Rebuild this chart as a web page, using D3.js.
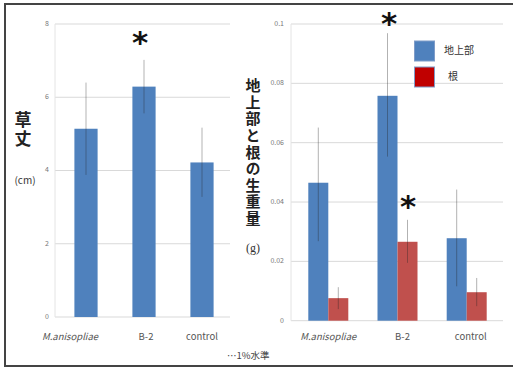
<!DOCTYPE html>
<html>
<head>
<meta charset="utf-8">
<script src="https://cdn.jsdelivr.net/npm/d3@7"></script>
<style>
  body { margin: 0; background: #fff; }
  svg { display: block; }
</style>
</head>
<body>
<svg id="chart" width="513" height="367"></svg>
<script>
// Data
const categories = ['M.anisopliae', 'B-2', 'control'];

// plant height (cm)
const heightMean = [5.14, 6.29, 4.22];
const heightLow = [3.88, 5.56, 3.28];
const heightHigh = [6.4, 7.02, 5.17];
const heightTicks = [0, 2, 4, 6, 8];

// fresh weight (g)
const seriesNames = ['地上部', '根'];
const shootMean = [0.0465, 0.0758, 0.0278];
const shootLow = [0.0268, 0.0553, 0.0116];
const shootHigh = [0.0651, 0.0969, 0.0442];
const rootMean = [0.0076, 0.0266, 0.0096];
const rootLow = [0.0039, 0.0195, 0.0049];
const rootHigh = [0.0113, 0.034, 0.0144];
const weightTicks = [0, 0.02, 0.04, 0.06, 0.08, 0.1];

const blue = '#4f81bd';
const red = '#c0504d';
const font = '"Noto Sans CJK JP", "Noto Sans", sans-serif';

const svg = d3.select('#chart').style('font-family', font);

// frame
svg.append('rect')
  .attr('x', 5).attr('y', 4)
  .attr('width', 515).attr('height', 362)
  .attr('fill', '#fff')
  .attr('stroke', '#444')
  .attr('stroke-width', 2);

function gridAndTicks(y, ticks, x0, x1, labelX, fmt) {
  for (const t of ticks) {
    svg.append('line')
      .attr('x1', x0).attr('x2', x1)
      .attr('y1', y(t)).attr('y2', y(t))
      .attr('stroke', '#d9d9d9').attr('stroke-width', 1);
    svg.append('text')
      .attr('x', labelX).attr('y', y(t))
      .attr('text-anchor', 'end')
      .attr('dominant-baseline', 'middle')
      .attr('font-size', '7px')
      .attr('fill', '#777')
      .text(fmt(t));
  }
  svg.append('line')
    .attr('x1', x0).attr('x2', x0)
    .attr('y1', y(ticks[ticks.length - 1])).attr('y2', y(0))
    .attr('stroke', '#e4e4e4');
}

function errBar(x, y, lo, hi) {
  svg.append('line')
    .attr('x1', x).attr('x2', x)
    .attr('y1', y(lo)).attr('y2', y(hi))
    .attr('stroke', '#222').attr('stroke-opacity', 0.35)
    .attr('stroke-width', 1);
}

function star(x, y, size) {
  svg.append('text')
    .attr('x', x).attr('y', y)
    .attr('text-anchor', 'middle')
    .attr('font-family', 'DejaVu Sans, sans-serif')
    .attr('font-weight', 'bold')
    .attr('font-size', size + 'px')
    .attr('fill', '#111')
    .text('*');
}

// vertical (tategaki) title as one text
function verticalTitle(x, y, size, spacing, str) {
  svg.append('text')
    .attr('x', x).attr('y', y)
    .style('writing-mode', 'vertical-rl')
    .style('letter-spacing', spacing + 'px')
    .attr('font-size', size + 'px')
    .attr('font-weight', 'bold')
    .attr('fill', '#222')
    .text(str);
}

// Left chart: plant height
const yL = d3.scaleLinear().domain([0, 8]).range([317, 24]);
const xL = d3.scaleBand().domain(categories).range([57, 231]).paddingInner(0.6).paddingOuter(0.3);

gridAndTicks(yL, heightTicks, 55, 230, 49, d => d3.format('d')(d));

categories.forEach((c, i) => {
  svg.append('rect')
    .attr('x', xL(c)).attr('y', yL(heightMean[i]))
    .attr('width', xL.bandwidth())
    .attr('height', yL(0) - yL(heightMean[i]))
    .attr('fill', blue);
  errBar(xL(c) + xL.bandwidth() / 2, yL, heightLow[i], heightHigh[i]);
});

const leftLabelShift = [-16, 2, 0];
categories.forEach((c, i) => {
  svg.append('text')
    .attr('x', xL(c) + xL.bandwidth() / 2 + leftLabelShift[i]).attr('y', 340)
    .attr('text-anchor', 'middle')
    .attr('font-size', '9.5px')
    .attr('font-style', i === 0 ? 'italic' : 'normal')
    .attr('fill', '#555')
    .text(c);
});

star(140, 53, 31);

verticalTitle(23, 111, 17, 2, '草丈');
svg.append('text')
  .attr('x', 25).attr('y', 184)
  .attr('text-anchor', 'middle')
  .attr('font-size', '10px')
  .attr('fill', '#333')
  .text('(cm)');

// Right chart: fresh weight
const yR = d3.scaleLinear().domain([0, 0.1]).range([320.7, 24]);
const xR = d3.scaleBand().domain(categories).range([293.7, 501.3]);
const xS = d3.scaleBand().domain(seriesNames).range([0, 40]);
const groupOffset = (xR.bandwidth() - 40) / 2;

gridAndTicks(yR, weightTicks, 291, 503, 284, d => d === 0 ? '0' : String(+d.toFixed(2)));

const weightSeries = [
  { name: seriesNames[0], mean: shootMean, lo: shootLow, hi: shootHigh, color: blue },
  { name: seriesNames[1], mean: rootMean, lo: rootLow, hi: rootHigh, color: red }
];

for (const s of weightSeries) {
  categories.forEach((c, i) => {
    const x = xR(c) + groupOffset + xS(s.name);
    svg.append('rect')
      .attr('x', x).attr('y', yR(s.mean[i]))
      .attr('width', xS.bandwidth())
      .attr('height', yR(0) - yR(s.mean[i]))
      .attr('fill', s.color);
  });
}
for (const s of weightSeries) {
  categories.forEach((c, i) => {
    const x = xR(c) + groupOffset + xS(s.name) + xS.bandwidth() / 2;
    errBar(x, yR, s.lo[i], s.hi[i]);
  });
}

const rightLabelShift = [0, 5, 4];
categories.forEach((c, i) => {
  svg.append('text')
    .attr('x', xR(c) + xR.bandwidth() / 2 + rightLabelShift[i]).attr('y', 340)
    .attr('text-anchor', 'middle')
    .attr('font-size', '9.5px')
    .attr('font-style', i === 0 ? 'italic' : 'normal')
    .attr('fill', '#555')
    .text(c);
});

star(389, 34, 31);
star(408, 217, 31);

// legend
const legendColors = ['#4f81bd', '#c00000'];
seriesNames.forEach((n, i) => {
  const ly = 41 + i * 26;
  svg.append('rect')
    .attr('x', 414.5).attr('y', ly)
    .attr('width', 20).attr('height', 20)
    .attr('fill', legendColors[i])
    .attr('stroke', '#7f9cc8').attr('stroke-width', 1);
  svg.append('text')
    .attr('x', i === 0 ? 444 : 448).attr('y', ly + 10)
    .attr('dominant-baseline', 'middle')
    .attr('font-size', '10px')
    .attr('fill', '#333')
    .text(n);
});

verticalTitle(253, 78, 15, 1.6, '地上部と根の生重量');
svg.append('text')
  .attr('x', 253).attr('y', 252)
  .attr('text-anchor', 'middle')
  .attr('font-size', '12px')
  .attr('font-family', 'Liberation Serif, serif')
  .attr('fill', '#333')
  .text('(g)');

// note
svg.append('text')
  .attr('x', 227).attr('y', 359)
  .attr('font-size', '9.5px')
  .attr('fill', '#444')
  .text('…1%水準');
</script>
</body>
</html>
